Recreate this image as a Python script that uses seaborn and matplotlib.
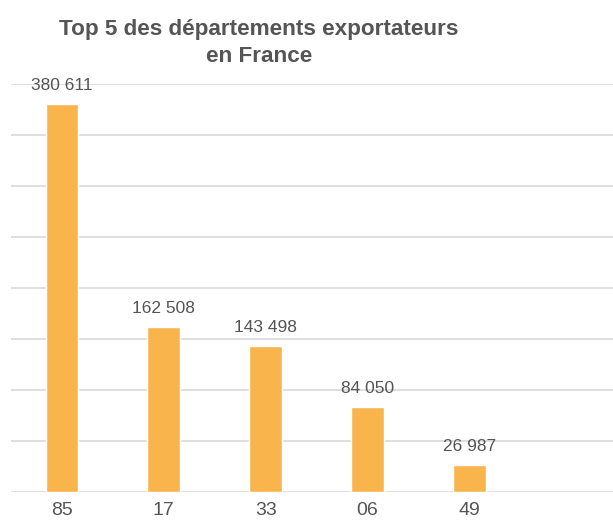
import matplotlib
matplotlib.use("Agg")
import matplotlib.pyplot as plt
import seaborn as sns
import pandas as pd

# =========================
# Data
# =========================

departements = ["85", "17", "33", "06", "49"]
exportateurs = [380611, 162508, 143498, 84050, 26987]
value_labels = ["380 611", "162 508", "143 498", "84 050", "26 987"]

TITLE = "Top 5 des départements exportateurs\nen France"

# =========================
# Style
# =========================

BAR_COLOR = "#F9B54C"
TEXT_COLOR = "#555555"
GRID_COLOR = "#D9D9D9"

sns.set_style("white")
plt.rcParams["font.family"] = ["Liberation Sans", "DejaVu Sans"]

df = pd.DataFrame({"dep": departements, "n": exportateurs})

fig = plt.figure(figsize=(6.13, 5.22), dpi=100)
ax = fig.add_axes([11 / 613, 29.7 / 522, 602 / 613, 408 / 522])

sns.barplot(data=df, x="dep", y="n", color=BAR_COLOR, width=0.32,
            saturation=1, ax=ax, zorder=3)

ax.set_ylim(0, 400000)
ax.set_xlim(-0.5, 5.41)
ax.set_yticks(range(0, 400001, 50000))
ax.yaxis.grid(True, color=GRID_COLOR, linewidth=1.2, zorder=0)
ax.set_yticklabels([])
ax.tick_params(axis="both", length=0)
ax.tick_params(axis="x", labelsize=14, labelcolor=TEXT_COLOR, pad=7)
ax.set_xlabel("")
ax.set_ylabel("")
for side in ["top", "right", "left", "bottom"]:
    ax.spines[side].set_visible(False)

for i, (v, lab) in enumerate(zip(exportateurs, value_labels)):
    ax.annotate(lab, (i, v), xytext=(0, 10), textcoords="offset points",
                ha="center", va="baseline", fontsize=12.5,
                color=TEXT_COLOR, annotation_clip=False)

fig.text(259 / 613, 1 - 19 / 522, TITLE, ha="center", va="top",
         fontsize=16.2, fontweight="bold", color=TEXT_COLOR, linespacing=1.4)

fig.savefig("out.png", dpi=100)
plt.close(fig)
